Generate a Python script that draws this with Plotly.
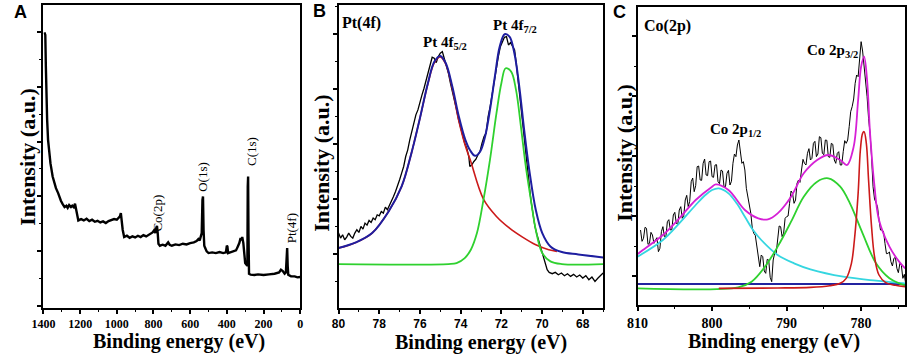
import plotly.graph_objects as go

W, H = 913, 357

# ---------------- Panel A: survey spectrum ----------------
survey_ev = [1395, 1390, 1387, 1384, 1380, 1375, 1370, 1362, 1350, 1340, 1332, 1320, 1314, 1305, 1296,
             1285, 1275, 1268, 1260, 1250, 1243, 1235, 1228, 1222, 1216, 1210, 1195, 1180, 1165, 1150,
             1135, 1120, 1105, 1090, 1075, 1060, 1045, 1030, 1015, 1000, 990, 983, 978, 974, 968,
             960, 945, 930, 915, 900, 885, 870, 855, 840, 825, 815, 805, 797, 790, 785,
             781, 777, 773, 765, 750, 735, 720, 712, 700, 680, 660, 640, 620, 600, 580,
             565, 555, 548, 542, 537, 533, 530, 527, 523, 518, 510, 500, 480, 460, 440,
             420, 405, 400, 397, 393, 380, 365, 350, 340, 332, 325, 320, 316, 310, 305,
             300, 293, 288, 286, 284, 282, 279, 270, 250, 230, 200, 170, 140, 115, 105,
             95, 85, 78, 74, 71, 68, 65, 50, 30, 15, 0]
survey_int = [823, 815, 720, 620, 560, 500, 465, 430, 390, 367, 355, 340, 328, 317, 308,
              298, 302, 296, 304, 298, 302, 298, 308, 290, 265, 258, 262, 258, 263, 256,
              260, 254, 257, 252, 255, 250, 256, 258, 262, 260, 265, 270, 280, 252, 230,
              208, 212, 206, 210, 207, 212, 208, 214, 210, 216, 218, 222, 228, 220, 235,
              242, 220, 188, 182, 185, 182, 192, 185, 182, 186, 184, 188, 186, 190, 192,
              196, 202, 198, 208, 220, 320, 330, 230, 182, 175, 165, 160, 162, 160, 163,
              160, 162, 182, 180, 160, 162, 164, 168, 180, 190, 205, 198, 208, 190, 160,
              130, 125, 122, 360, 390, 220, 98, 95, 94, 96, 94, 96, 98, 102, 110,
              106, 98, 102, 172, 175, 120, 95, 90, 90, 87, 88]
survey_ticks = [1400, 1200, 1000, 800, 600, 400, 200, 0]

# ---------------- Panel B: Pt 4f ----------------
pt_ev = [80.0, 79.9, 79.8, 79.7, 79.6, 79.5, 79.4, 79.3, 79.2, 79.1, 79.0, 78.9, 78.8, 78.7, 78.6,
         78.5, 78.4, 78.3, 78.2, 78.1, 78.0, 77.9, 77.8, 77.7, 77.6, 77.5, 77.4, 77.3, 77.2, 77.1,
         77.0, 76.9, 76.8, 76.7, 76.6, 76.5, 76.4, 76.3, 76.2, 76.1, 76.0, 75.9, 75.8, 75.7, 75.6,
         75.5, 75.4, 75.3, 75.2, 75.1, 75.0, 74.9, 74.8, 74.7, 74.6, 74.5, 74.4, 74.3, 74.2, 74.1,
         74.0, 73.9, 73.8, 73.7, 73.6, 73.55, 73.45, 73.35, 73.25, 73.15, 73.05, 72.95, 72.85, 72.75, 72.65,
         72.55, 72.45, 72.35, 72.25, 72.15, 72.05, 71.95, 71.85, 71.75, 71.65, 71.55, 71.45, 71.35, 71.25, 71.15,
         71.05, 70.95, 70.85, 70.75, 70.65, 70.55, 70.45, 70.35, 70.25, 70.15, 70.05, 69.95, 69.85, 69.75, 69.65,
         69.5, 69.35, 69.2, 69.05, 68.9, 68.75, 68.6, 68.45, 68.3, 68.15, 68.0, 67.85, 67.7, 67.55, 67.4,
         67.25, 67.1, 67.0]
pt_int = [228, 213, 223, 208, 216, 228, 218, 213, 228, 238, 230, 248, 240, 258, 252,
          266, 260, 273, 268, 283, 280, 293, 288, 306, 298, 310, 323, 338, 353, 368,
          388, 408, 428, 458, 478, 508, 533, 563, 583, 598, 623, 643, 663, 688, 708,
          738, 756, 753, 740, 758, 768, 773, 753, 733, 708, 678, 653, 628, 598, 568,
          543, 518, 498, 483, 458, 428, 433, 443, 450, 463, 473, 498, 518, 528, 578,
          608, 648, 688, 728, 758, 788, 803, 816, 818, 793, 800, 788, 778, 728, 668,
          608, 548, 488, 428, 378, 328, 288, 248, 223, 203, 183, 163, 138, 118, 110,
          106, 110, 103, 108, 100, 106, 98, 104, 96, 102, 93, 100, 88, 96, 83,
          93, 103, 108]

pt_fit_ev = [80.0, 79.15, 78.35, 77.54, 76.9, 76.42, 76.02, 75.61, 75.29, 75.0, 74.73, 74.41, 74.09,
             73.77, 73.53, 73.29, 73.04, 72.8, 72.56, 72.32, 72.08, 71.84, 71.6, 71.36, 71.12, 70.88,
             70.63, 70.31, 69.99, 69.59, 69.03, 68.22, 67.0]
pt_fit_int = [183, 200, 228, 293, 368, 468, 568, 678, 743, 760, 738, 668, 578,
              508, 476, 460, 473, 518, 598, 698, 788, 825, 818, 768, 668, 538,
              418, 298, 228, 188, 171, 164, 155]

pt52_ev = [80.0, 79.15, 78.35, 77.54, 76.9, 76.42, 76.02, 75.61, 75.29, 75.0, 74.73, 74.41, 74.09,
           73.77, 73.53, 72.88, 72.24, 71.6, 70.96, 70.31, 69.67, 69.27]
pt52_int = [183, 200, 228, 293, 368, 468, 568, 676, 740, 757, 735, 662, 565,
            490, 448, 330, 278, 243, 216, 193, 178, 173]

pt72_ev = [80.0, 74.6, 74.2, 73.8, 73.5, 73.2, 72.88, 72.56, 72.24, 72.0, 71.79, 71.52, 71.28,
           71.04, 70.8, 70.55, 70.31, 69.99, 69.59, 69.03, 67.0]
pt72_int = [135, 135, 138, 153, 178, 228, 328, 448, 588, 678, 723, 713, 658,
            548, 428, 328, 238, 168, 143, 135, 135]
pt_ticks = [80, 78, 76, 74, 72, 70, 68]

# ---------------- Panel C: Co 2p ----------------
co_ev = [809.6, 809.4, 809.2, 809.0, 808.8, 808.6, 808.4, 808.2, 808.0, 807.8, 807.6, 807.4, 807.2, 807.0,
         806.8, 806.6, 806.4, 806.2, 806.0, 805.8, 805.6, 805.4, 805.2, 805.0, 804.8, 804.6, 804.4, 804.2,
         804.0, 803.8, 803.6, 803.4, 803.2, 803.0, 802.8, 802.6, 802.4, 802.2, 802.0, 801.8, 801.6, 801.4,
         801.2, 801.0, 800.8, 800.6, 800.4, 800.2, 800.0, 799.8, 799.6, 799.4, 799.2, 799.0, 798.8, 798.6,
         798.4, 798.2, 798.0, 797.8, 797.6, 797.4, 797.2, 797.0, 796.8, 796.6, 796.4, 796.2, 796.0, 795.8,
         795.6, 795.4, 795.2, 795.0, 794.8, 794.6, 794.4, 794.2, 794.0, 793.8, 793.6, 793.4, 793.2, 793.0,
         792.8, 792.6, 792.4, 792.2, 792.0, 791.8, 791.6, 791.4, 791.2, 791.0, 790.8, 790.6, 790.4, 790.2,
         790.0, 789.8, 789.6, 789.4, 789.2, 789.0, 788.8, 788.6, 788.4, 788.2, 788.0, 787.8, 787.6, 787.4,
         787.2, 787.0, 786.8, 786.6, 786.4, 786.2, 786.0, 785.8, 785.6, 785.4, 785.2, 785.0, 784.8, 784.6,
         784.4, 784.2, 784.0, 783.8, 783.6, 783.4, 783.2, 783.0, 782.8, 782.6, 782.4, 782.2, 782.0, 781.8,
         781.6, 781.4, 781.2, 781.0, 780.8, 780.6, 780.4, 780.2, 780.0, 779.8, 779.6, 779.4, 779.2, 779.0,
         778.8, 778.6, 778.4, 778.2, 778.0, 777.8, 777.6, 777.4, 777.2, 777.0, 776.8, 776.6, 776.4, 776.2,
         776.0, 775.8, 775.6, 775.4, 775.2, 775.0, 774.8, 774.6, 774.4, 774.2, 774.0]
co_int = [318, 284, 293, 326, 323, 275, 278, 311, 303, 278, 288, 295, 253, 263,
          313, 328, 298, 297, 343, 349, 318, 319, 363, 371, 338, 334, 378, 388,
          353, 361, 408, 422, 388, 404, 463, 474, 433, 451, 508, 510, 468, 467,
          518, 531, 483, 481, 523, 525, 478, 476, 513, 514, 463, 457, 498, 495,
          448, 448, 488, 497, 453, 464, 518, 546, 538, 573, 588, 543, 518, 523,
          498, 443, 418, 405, 368, 323, 308, 302, 268, 226, 208, 243, 238, 195,
          188, 230, 228, 176, 163, 228, 248, 248, 288, 330, 328, 298, 308, 353,
          358, 360, 398, 435, 428, 398, 408, 458, 468, 461, 498, 530, 518, 513,
          548, 562, 528, 533, 578, 584, 538, 546, 598, 595, 548, 544, 588, 587,
          538, 536, 578, 575, 528, 518, 548, 553, 513, 513, 553, 586, 578, 588,
          628, 673, 688, 711, 758, 783, 778, 820, 883, 855, 808, 773, 718, 653,
          608, 538, 448, 411, 398, 388, 348, 318, 318, 314, 278, 247, 248, 252,
          223, 210, 233, 236, 203, 190, 218, 212, 173, 185, 153]
assert len(co_ev) == len(co_int), (len(co_ev), len(co_int))

co_env_ev = [810.0, 809.6, 806.6, 804.4, 802.2, 800.0, 799.5, 797.8, 795.6, 793.8, 792.5, 791.2, 789.4,
             787.7, 785.9, 784.4, 782.8, 781.9, 781.0, 780.4, 780.0, 779.6, 779.2, 778.8, 778.2, 777.6,
             776.2, 774.9, 774.1]
co_env_int = [246, 253, 303, 353, 408, 448, 455, 438, 378, 353, 350, 368, 418,
              488, 528, 543, 528, 513, 568, 708, 808, 838, 768, 608, 448, 348,
              268, 223, 203]

co12_ev = [810.0, 806.6, 804.4, 802.2, 800.9, 800.0, 799.1, 797.8, 796.7, 795.6, 794.5, 793.4, 791.2,
           789.0, 786.8, 782.4, 778.0, 774.1]
co12_int = [238, 288, 338, 393, 423, 438, 443, 428, 398, 358, 318, 288, 243,
            218, 200, 178, 166, 158]

cosat_ev = [810.0, 796.5, 794.7, 792.9, 791.2, 789.4, 787.7, 785.9, 784.4, 782.8, 781.5, 779.8, 778.0,
            776.2, 774.9, 774.1]
cosat_int = [143, 146, 163, 208, 268, 343, 418, 463, 473, 448, 398, 308, 218,
             173, 158, 152]

co32_ev = [799.1, 791.2, 786.8, 784.2, 782.8, 782.0, 781.3, 780.9, 780.4, 780.1, 779.8, 779.6, 779.3,
           779.0, 778.6, 778.2, 777.6, 776.7, 775.4, 774.1]
co32_int = [143, 144, 146, 151, 158, 173, 218, 288, 428, 558, 608, 613, 578,
            468, 328, 238, 183, 160, 152, 148]

co_base_ev = [810.0, 774.1]
co_base_int = [156, 156]
co_ticks = [810, 800, 790, 780]

# ---------------- figure ----------------
fig = go.Figure()

fig.add_trace(go.Scatter(x=survey_ev, y=survey_int, mode="lines",
                         line=dict(color="black", width=2.4), xaxis="x", yaxis="y"))

fig.add_trace(go.Scatter(x=pt_ev, y=pt_int, mode="lines",
                         line=dict(color="black", width=1.3), xaxis="x2", yaxis="y2"))
fig.add_trace(go.Scatter(x=pt52_ev, y=pt52_int, mode="lines", line_shape="spline",
                         line=dict(color="#cc1a1a", width=1.6), xaxis="x2", yaxis="y2"))
fig.add_trace(go.Scatter(x=pt72_ev, y=pt72_int, mode="lines", line_shape="spline",
                         line=dict(color="#2fd12f", width=1.8), xaxis="x2", yaxis="y2"))
fig.add_trace(go.Scatter(x=pt_fit_ev, y=pt_fit_int, mode="lines", line_shape="spline",
                         line=dict(color="#1e1ea0", width=2.0), xaxis="x2", yaxis="y2"))

fig.add_trace(go.Scatter(x=co_ev, y=co_int, mode="lines",
                         line=dict(color="black", width=1.0), xaxis="x3", yaxis="y3"))
fig.add_trace(go.Scatter(x=co_base_ev, y=co_base_int, mode="lines",
                         line=dict(color="#2323a0", width=1.8), xaxis="x3", yaxis="y3"))
fig.add_trace(go.Scatter(x=co12_ev, y=co12_int, mode="lines", line_shape="spline",
                         line=dict(color="#35d6e0", width=1.8), xaxis="x3", yaxis="y3"))
fig.add_trace(go.Scatter(x=cosat_ev, y=cosat_int, mode="lines", line_shape="spline",
                         line=dict(color="#2fd12f", width=1.8), xaxis="x3", yaxis="y3"))
fig.add_trace(go.Scatter(x=co32_ev, y=co32_int, mode="lines", line_shape="spline",
                         line=dict(color="#cc1a1a", width=1.6), xaxis="x3", yaxis="y3"))
fig.add_trace(go.Scatter(x=co_env_ev, y=co_env_int, mode="lines", line_shape="spline",
                         line=dict(color="#d620d6", width=1.8), xaxis="x3", yaxis="y3"))


def px(xp):
    return xp / W


def py(yp):
    return 1 - yp / H


def xax(domain, rng, ticks, dminor, font):
    return dict(domain=[px(domain[0]), px(domain[1])], range=rng, tickmode="array",
                tickvals=ticks, ticktext=[str(t) for t in ticks],
                showline=True, linecolor="black", linewidth=2, mirror=True,
                ticks="outside", ticklen=4, tickwidth=1.5, tickcolor="black",
                minor=dict(ticks="outside", ticklen=2, tickwidth=1, tickcolor="black", dtick=dminor),
                showgrid=False, zeroline=False, tickfont=font)


def yax(domain, rng, dt, anchor):
    return dict(domain=[py(domain[1]), py(domain[0])], range=rng, tickmode="linear", tick0=0, dtick=dt,
                showline=True, linecolor="black", linewidth=2, mirror=True,
                ticks="outside", ticklen=4, tickwidth=1.5, tickcolor="black",
                minor=dict(ticks="outside", ticklen=2, tickwidth=1, tickcolor="black", dtick=dt / 2),
                showgrid=False, zeroline=False, showticklabels=False, anchor=anchor)


serif_b12 = dict(family="Liberation Serif", size=12, color="black", weight="bold")
sans_b12 = dict(family="Liberation Sans", size=12, color="black", weight="bold")
serif_b14 = dict(family="Liberation Serif", size=14, color="black", weight="bold")

fig.update_layout(
    width=W, height=H, margin=dict(l=0, r=0, t=0, b=0),
    paper_bgcolor="white", plot_bgcolor="white", showlegend=False,
    xaxis=xax((32, 293), [1400, 0], survey_ticks, 100, serif_b12) | dict(anchor="y"),
    yaxis=yax((5, 308), [-5, 905], 165, "x"),
    xaxis2=xax((332, 601), [80, 67], pt_ticks, 1, sans_b12) | dict(anchor="y2"),
    yaxis2=yax((5, 308), [3, 913], 165, "x2"),
    xaxis3=xax((636, 908), [810, 774.1], co_ticks, 5, serif_b14) | dict(anchor="y3"),
    yaxis3=yax((7, 305), [93, 987], 180, "x3"),
)

ann = []


def add_text(text, x, y, size, family="Liberation Serif", bold=True, angle=0, xanchor="center"):
    ann.append(dict(text=text, x=px(x), y=py(y), xref="paper", yref="paper", showarrow=False,
                    xanchor=xanchor, yanchor="middle", textangle=angle, borderpad=0,
                    font=dict(family=family, size=size, color="black",
                              weight="bold" if bold else "normal")))


# panel letters
add_text("A", 1, 12, 18, family="Liberation Sans", xanchor="left")
add_text("B", 305, 11, 18, family="Liberation Sans", xanchor="left")
add_text("C", 610, 12, 18, family="Liberation Sans", xanchor="left")

# axis titles
add_text("Binding energy (eV)", 170, 341, 20)
add_text("Binding energy (eV)", 477, 342, 20)
add_text("Binding energy (eV)", 775, 341, 20)
add_text("Intensity (a.u.)", 15, 157, 22, angle=-90)
add_text("Intensity (a.u.)", 315, 163, 22, angle=-90)
add_text("Intensity (a.u.)", 622, 153, 22, angle=-90)

# panel A peak labels
add_text("Co(2p)", 147, 213, 13, bold=False, angle=-90)
add_text("O(1s)", 193, 177, 13, bold=False, angle=-90)
add_text("C(1s)", 243, 152, 13, bold=False, angle=-90)
add_text("Pt(4f)", 285, 228, 13, bold=False, angle=-90)

# panel B labels
add_text("Pt(4f)", 335, 23, 16, xanchor="left")
add_text("Pt 4f<sub>5/2</sub>", 440, 43, 15)
add_text("Pt 4f<sub>7/2</sub>", 511, 26, 15)

# panel C labels
add_text("Co(2p)", 642, 26, 16, xanchor="left")
add_text("Co 2p<sub>1/2</sub>", 736, 130, 15)
add_text("Co 2p<sub>3/2</sub>", 834, 51, 15)

fig.update_layout(annotations=ann)

fig.write_html("out.html", config={"displayModeBar": False},
               post_script="document.body.style.margin='0px';")
